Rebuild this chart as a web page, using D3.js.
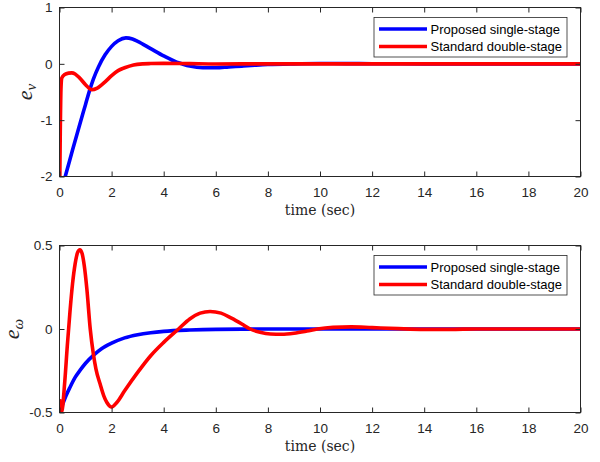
<!DOCTYPE html>
<html>
<head>
<meta charset="utf-8">
<script src="https://cdn.jsdelivr.net/npm/d3@7"></script>
<style>
  body { margin: 0; background: #fff; }
  svg { display: block; }
  .tick text { font-family: 'Liberation Sans', Arial, sans-serif; font-size: 13.5px; fill: #262626; }
  .tick line { stroke: #262626; }
  .xlab { font-family: 'DejaVu Serif', serif; font-size: 14px; fill: #262626; }
  .ylab { font-family: 'Liberation Serif', 'Times New Roman', serif; font-style: italic; font-size: 22px; fill: #262626; }
  .legend text { font-family: 'Liberation Sans', Arial, sans-serif; font-size: 13px; fill: #000; }
</style>
</head>
<body>
<svg width="600" height="462"></svg>
<script>
/*global d3*/

// time (sec) and error values
var evSingleT = [0, 0.22, 0.5, 0.75, 1.0, 1.15, 1.3, 1.5, 1.75, 2.0, 2.25, 2.55, 2.8, 3.0, 3.5, 4.0, 4.5, 4.7, 5.0, 5.5, 6.0, 6.5, 7.0, 7.5, 8.0, 9.0, 10.0, 11.0, 12.0, 14.0, 20.0]
var evSingle = [-2.35, -2.0, -1.53, -1.12, -0.72, -0.48, -0.27, -0.05, 0.16, 0.31, 0.41, 0.46, 0.44, 0.40, 0.27, 0.14, 0.03, 0.0, -0.04, -0.07, -0.07, -0.055, -0.04, -0.025, -0.012, 0.0, 0.005, 0.004, 0.002, 0.0, 0.0]

var evDoubleT = [0, 0.03, 0.06, 0.09, 0.2, 0.35, 0.47, 0.6, 0.75, 1.0, 1.24, 1.45, 1.75, 2.0, 2.25, 2.5, 2.84, 3.2, 3.5, 4.0, 5.0, 6.0, 8.0, 20.0]
var evDouble = [-2.6, -1.2, -0.4, -0.25, -0.19, -0.165, -0.16, -0.18, -0.24, -0.37, -0.46, -0.43, -0.32, -0.21, -0.12, -0.07, -0.02, 0.0, 0.005, 0.008, 0.003, -0.002, 0.0, 0.0]

var ewSingleT = [0, 0.1, 0.25, 0.4, 0.6, 0.8, 1.0, 1.3, 1.6, 2.0, 2.5, 3.0, 3.5, 4.0, 5.0, 6.0, 7.0, 8.0, 20.0]
var ewSingle = [-0.5, -0.46, -0.40, -0.35, -0.29, -0.245, -0.205, -0.158, -0.12, -0.085, -0.053, -0.034, -0.022, -0.014, -0.006, -0.002, -0.001, 0.0, 0.0]

var ewDoubleT = [0, 0.08, 0.2, 0.3, 0.4, 0.5, 0.6, 0.7, 0.78, 0.87, 0.95, 1.05, 1.18, 1.3, 1.4, 1.56, 1.7, 1.82, 2.0, 2.2, 2.5, 3.0, 3.5, 4.0, 4.57, 5.0, 5.4, 5.78, 6.2, 6.6, 7.0, 7.32, 7.7, 8.1, 8.53, 9.0, 9.5, 9.9, 10.5, 11.2, 12.0, 13.0, 14.0, 15.0, 16.0, 20.0]
var ewDouble = [-0.42, -0.5, -0.32, -0.1, 0.1, 0.27, 0.39, 0.46, 0.475, 0.45, 0.38, 0.24, 0.0, -0.15, -0.24, -0.33, -0.4, -0.44, -0.467, -0.44, -0.37, -0.26, -0.16, -0.08, 0.0, 0.06, 0.095, 0.105, 0.095, 0.065, 0.03, 0.0, -0.02, -0.03, -0.031, -0.025, -0.012, 0.0, 0.01, 0.013, 0.008, 0.002, -0.002, -0.002, 0.0, 0.0]

var xTicks = [0, 2, 4, 6, 8, 10, 12, 14, 16, 18, 20]
var evTicks = [-2, -1, 0, 1]
var ewTicks = [-0.5, 0, 0.5]
var seriesNames = ['Proposed single-stage', 'Standard double-stage']
var seriesColors = ['#0000ff', '#ff0000']

var svg = d3.select('svg')
var left = 59.5
var right = 580.5

function zip (t, v) {
  return t.map(function (d, i) { return [d, v[i]] })
}

function panel (opts) {
  var x = d3.scaleLinear().domain([0, 20]).range([left, right])
  var y = d3.scaleLinear().domain(opts.yDomain).range([opts.bottom, opts.top])
  var g = svg.append('g')

  g.append('clipPath').attr('id', opts.id)
    .append('rect')
    .attr('x', left).attr('y', opts.top)
    .attr('width', right - left).attr('height', opts.bottom - opts.top)

  var line = d3.line()
    .x(function (d) { return x(d[0]) })
    .y(function (d) { return y(d[1]) })
    .curve(d3.curveMonotoneX)

  g.append('g').attr('clip-path', 'url(#' + opts.id + ')')
    .selectAll('path')
    .data(opts.series)
    .enter().append('path')
    .attr('d', function (d) { return line(d) })
    .attr('fill', 'none')
    .attr('stroke', function (d, i) { return seriesColors[i] })
    .attr('stroke-width', 3.6)
    .attr('stroke-linejoin', 'round')

  // axes, ticks pointing inward like MATLAB
  var fmt = function (d) { return String(d) }
  g.append('g').attr('transform', 'translate(0,' + opts.bottom + ')')
    .call(d3.axisBottom(x).tickValues(xTicks).tickSize(-5).tickPadding(11).tickFormat(fmt))
  g.append('g').attr('transform', 'translate(0,' + opts.top + ')')
    .call(d3.axisTop(x).tickValues(xTicks).tickSize(-5).tickFormat(''))
  g.append('g').attr('transform', 'translate(' + left + ',0)')
    .call(d3.axisLeft(y).tickValues(opts.yTicks).tickSize(-5).tickPadding(7).tickFormat(fmt))
  g.append('g').attr('transform', 'translate(' + right + ',0)')
    .call(d3.axisRight(y).tickValues(opts.yTicks).tickSize(-5).tickFormat(''))
  g.selectAll('.domain').remove()
  g.append('rect')
    .attr('x', left).attr('y', opts.top)
    .attr('width', right - left).attr('height', opts.bottom - opts.top)
    .attr('fill', 'none').attr('stroke', '#262626').attr('stroke-width', 1)

  g.append('text').attr('class', 'xlab')
    .attr('x', (left + right) / 2).attr('y', opts.bottom + 38.5)
    .attr('text-anchor', 'middle')
    .text('time (sec)')

  var yl = g.append('text').attr('class', 'ylab')
    .attr('transform', 'translate(' + opts.ylabX + ',' + (opts.top + opts.bottom) / 2 + ') rotate(-90)')
    .attr('text-anchor', 'middle')
  yl.append('tspan').text('e')
  yl.append('tspan').attr('dy', 4).attr('font-size', '15px').text(opts.sub)

  // legend
  var lg = g.append('g').attr('class', 'legend')
  lg.append('rect')
    .attr('x', 374).attr('y', opts.legTop)
    .attr('width', 193).attr('height', 39.5)
    .attr('fill', '#fff').attr('stroke', '#262626').attr('stroke-width', 0.8)
  seriesNames.forEach(function (name, i) {
    var yy = opts.legTop + 11.5 + i * 17.5
    lg.append('line')
      .attr('x1', 379).attr('x2', 427).attr('y1', yy).attr('y2', yy)
      .attr('stroke', seriesColors[i]).attr('stroke-width', 3.6)
    lg.append('text')
      .attr('x', 430.5).attr('y', yy + 4.5)
      .text(name)
  })
}

panel({
  id: 'clipTop', top: 7.5, bottom: 176.5, yDomain: [-2, 1], yTicks: evTicks,
  series: [zip(evSingleT, evSingle), zip(evDoubleT, evDouble)],
  sub: 'ν', ylabX: 32, legTop: 17.5
})

panel({
  id: 'clipBottom', top: 245.5, bottom: 412.5, yDomain: [-0.5, 0.5], yTicks: ewTicks,
  series: [zip(ewSingleT, ewSingle), zip(ewDoubleT, ewDouble)],
  sub: 'ω', ylabX: 19, legTop: 255.5
})
</script>
</body>
</html>
